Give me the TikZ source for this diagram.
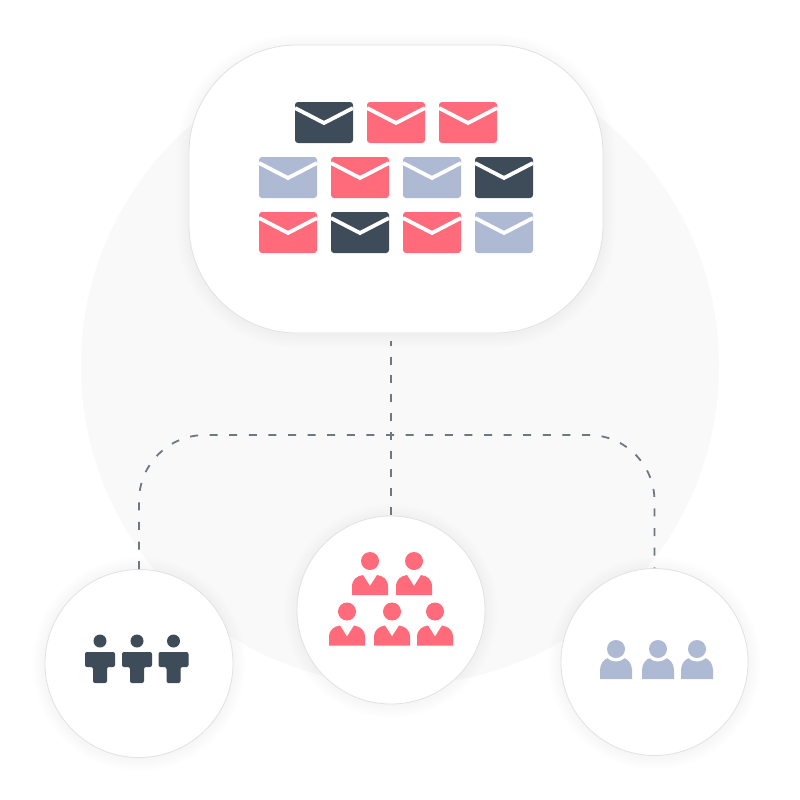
\documentclass[tikz,border=0pt]{standalone}
\definecolor{slate}{HTML}{3D4C58}
\definecolor{coral}{HTML}{FF6B7A}
\definecolor{haze}{HTML}{AEB9D3}
\definecolor{wash}{HTML}{F9F9F9}
\definecolor{rim}{HTML}{E2E2E2}
\definecolor{linkgray}{HTML}{6E787F}
\tikzset{
  panel/.style={draw=rim,line width=.8pt,fill=white,inner sep=0pt},
  member/.style={panel,circle,minimum size=188pt},
  link/.style={draw=linkgray,line width=1.8pt,dash pattern=on 8pt off 11.6pt},
  drop/.style={black,opacity=.0045},
}
% envelope: left, top, colour
\newcommand{\mailicon}[3]{
  \fill[#3,rounded corners=3pt] (#1,#2) rectangle ++(58,41);
  \draw[white,line width=3.8pt] (#1,#2+6) -- (#1+29,#2+21) -- (#1+58,#2+6);
}
% dark person: centre, top of head
\newcommand{\blockman}[2]{
  \fill[slate] (#1,#2) circle (6.5);
  \fill[slate,rounded corners=2pt] (#1-15,#2+11) -- (#1+15,#2+11) -- (#1+15,#2+26)
    -- (#1+7,#2+26) -- (#1+7,#2+42) -- (#1-7,#2+42) -- (#1-7,#2+26) -- (#1-15,#2+26) -- cycle;
}
% red person: centre, centre of head
\newcommand{\suitman}[2]{
  \fill[coral] (#1,#2) circle (9);
  \fill[coral] (#1-18,#2+34) -- (#1-18,#2+26) .. controls (#1-18,#2+18) and (#1-13,#2+15) .. (#1-7,#2+14)
    -- (#1,#2+25) -- (#1+7,#2+14) .. controls (#1+13,#2+15) and (#1+18,#2+18) .. (#1+18,#2+26)
    -- (#1+18,#2+34) -- cycle;
}
% light person: centre, centre of head
\newcommand{\roundman}[2]{
  \fill[haze] (#1-16,#2+30) -- (#1-16,#2+21) .. controls (#1-16,#2+15) and (#1-12,#2+10) .. (#1-8,#2+9)
    -- (#1+8,#2+9) .. controls (#1+12,#2+10) and (#1+16,#2+15) .. (#1+16,#2+21) -- (#1+16,#2+30) -- cycle;
  \fill[white] (#1,#2) circle (12.5);
  \fill[haze] (#1,#2) circle (9);
}
\begin{document}
\begin{tikzpicture}[x=1pt,y=-1pt]
  \useasboundingbox[fill=white] (0,0) rectangle (800,800);
  \fill[wash] (400,366) circle (319);

  % soft shadows
  \foreach \g in {2,5,...,26} {
    \draw[drop,line width=\g pt,rounded corners=108pt] (189,47) rectangle (603,335);
    \draw[drop,line width=\g pt] (139,664) circle (94);
    \draw[drop,line width=\g pt] (391,611) circle (94);
    \draw[drop,line width=\g pt] (654.5,663) circle (93.5);
  }

  \node (inbox) at (396,189) [panel,rounded corners=108pt,minimum width=414pt,minimum height=288pt] {};
  \node (dark) at (139,663.5) [member] {};
  \node (crowd) at (391,610) [member] {};
  \node (light) at (654.5,662) [member,minimum size=187pt] {};

  % links
  \draw[link,rounded corners=66pt] (dark.north) |- (391,435) -| (light.north);
  \draw[link,dash pattern=on 8pt off 10.8pt,dash phase=3.6pt,shorten <=8pt] (inbox.south -| crowd.north) -- (crowd.north);

  % mails
  \mailicon{295}{102}{slate}
  \mailicon{367}{102}{coral}
  \mailicon{439}{102}{coral}

  \mailicon{259}{157}{haze}
  \mailicon{331}{157}{coral}
  \mailicon{403}{157}{haze}
  \mailicon{475}{157}{slate}

  \mailicon{259}{212}{coral}
  \mailicon{331}{212}{slate}
  \mailicon{403}{212}{coral}
  \mailicon{475}{212}{haze}

  % people
  \foreach \x in {100,137,173.5} {
    \blockman{\x}{641}
  }

  \foreach \x in {370,414} {
    \suitman{\x}{561}
  }
  \foreach \x in {347,392,435} {
    \suitman{\x}{611.5}
  }

  \foreach \x in {616,658,697} {
    \roundman{\x}{649}
  }
\end{tikzpicture}
\end{document}
